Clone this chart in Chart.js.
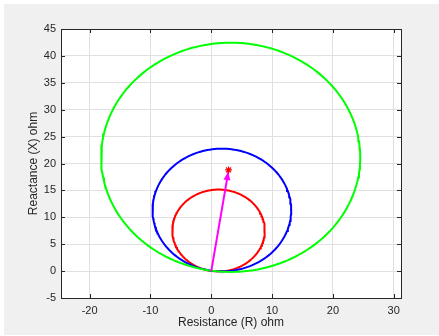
<!DOCTYPE html>
<html>
<head>
<meta charset="utf-8">
<script src="https://cdn.jsdelivr.net/npm/chart.js@4.4.1/dist/chart.umd.min.js"></script>
<style>
body { margin: 0; background: #fff; }
#wrap { width: 439px; height: 336px; }
</style>
</head>
<body>
<div id="wrap"><canvas id="mycanvas" width="439" height="336"></canvas></div>
<script>
var xTicks = [-20, -10, 0, 10, 20, 30];
var yTicks = [-5, 0, 5, 10, 15, 20, 25, 30, 35, 40, 45];
var xLimits = [-24.7, 31.2];
var yLimits = [-5, 45];

// relay circles: centre (R, X) and radius, ohm
var circleNames = ['zone1', 'zone2', 'zone3'];
var centerR = [1.2, 1.75, 3.2];
var centerX = [7.55, 11.35, 21.15];
var radius = [7.6, 11.4, 21.3];

// impedance arrow and marker
var arrowR = [0, 2.8];
var arrowX = [0, 18.4];
var markR = [2.85];
var markX = [18.8];

var txt = '#262626';
var font = "'Liberation Sans', Arial, sans-serif";

function circlePoints(i) {
    var pts = [];
    for (var k = 0; k <= 180; k++) {
        var a = k * 2 * Math.PI / 180;
        pts.push({x: centerR[i] + radius[i] * Math.cos(a), y: centerX[i] + radius[i] * Math.sin(a)});
    }
    return pts;
}

function pairs(xs, ys) {
    var pts = [];
    for (var i = 0; i < xs.length; i++) pts.push({x: xs[i], y: ys[i]});
    return pts;
}

var framePlugin = {
    id: 'frame',
    beforeDraw: function (chart) {
        var c = chart.ctx, a = chart.chartArea;
        c.save();
        c.fillStyle = '#f0f0f0';
        c.fillRect(4, 4, 435, 331);
        c.fillStyle = '#ffffff';
        c.fillRect(a.left, a.top, a.right - a.left, a.bottom - a.top);
        c.restore();
    },
    afterDatasetsDraw: function (chart) {
        var c = chart.ctx, sx = chart.scales.x, sy = chart.scales.y;
        var x0 = sx.getPixelForValue(arrowR[0]), y0 = sy.getPixelForValue(arrowX[0]);
        var x1 = sx.getPixelForValue(arrowR[1]), y1 = sy.getPixelForValue(arrowX[1]);
        var ang = Math.atan2(y1 - y0, x1 - x0);
        var len = 8, hw = 3.5;
        c.save();
        c.fillStyle = '#ff00ff';
        c.beginPath();
        c.moveTo(x1, y1);
        c.lineTo(x1 - len * Math.cos(ang) + hw * Math.sin(ang), y1 - len * Math.sin(ang) - hw * Math.cos(ang));
        c.lineTo(x1 - len * Math.cos(ang) - hw * Math.sin(ang), y1 - len * Math.sin(ang) + hw * Math.cos(ang));
        c.closePath();
        c.fill();
        c.restore();
    },
    afterDraw: function (chart) {
        var c = chart.ctx, a = chart.chartArea, sx = chart.scales.x, sy = chart.scales.y;
        var tl = 4;
        c.save();
        c.strokeStyle = txt;
        c.lineWidth = 1;
        c.beginPath();
        xTicks.forEach(function (v) {
            var p = Math.round(sx.getPixelForValue(v)) + 0.5;
            c.moveTo(p, a.bottom); c.lineTo(p, a.bottom - tl);
            c.moveTo(p, a.top); c.lineTo(p, a.top + tl);
        });
        yTicks.forEach(function (v) {
            var p = Math.round(sy.getPixelForValue(v)) + 0.5;
            c.moveTo(a.left, p); c.lineTo(a.left + tl, p);
            c.moveTo(a.right, p); c.lineTo(a.right - tl, p);
        });
        c.stroke();
        c.strokeRect(a.left + 0.5, a.top + 0.5, a.right - a.left, a.bottom - a.top);
        c.restore();
    }
};

var lineColors = ['#ff0000', '#0000ff', '#00ff00'];
var datasets = [];
for (var i = 0; i < circleNames.length; i++) {
    datasets.push({
        label: circleNames[i],
        data: circlePoints(i),
        showLine: true,
        borderColor: lineColors[i],
        borderWidth: 2,
        pointRadius: 0,
        fill: false,
        order: 5 - i
    });
}
datasets.push({
    label: 'Z',
    data: pairs(arrowR, arrowX),
    showLine: true,
    borderColor: '#ff00ff',
    borderWidth: 2,
    pointRadius: 0,
    order: 1
});
datasets.push({
    label: 'fault',
    data: pairs(markR, markX),
    pointStyle: 'star',
    pointRadius: 3.5,
    borderColor: '#ff0000',
    backgroundColor: '#ff0000',
    borderWidth: 1.2,
    order: 0
});

var ctx = document.getElementById('mycanvas');
var chart = new Chart(ctx, {
    type: 'scatter',
    data: {datasets: datasets},
    plugins: [framePlugin],
    options: {
        responsive: false,
        animation: false,
        events: [],
        layout: {padding: {left: 0, top: 29, right: 38, bottom: 0}},
        plugins: {legend: {display: false}, tooltip: {enabled: false}},
        scales: {
            x: {
                type: 'linear',
                min: xLimits[0],
                max: xLimits[1],
                afterBuildTicks: function (s) { s.ticks = xTicks.map(function (v) { return {value: v}; }); },
                afterFit: function (s) { s.height = 38; },
                grid: {color: '#e0e0e0', drawTicks: false},
                border: {display: false},
                ticks: {color: txt, font: {family: font, size: 11}, padding: 6, maxRotation: 0},
                title: {display: true, text: 'Resistance (R) ohm', color: txt, font: {family: font, size: 12}, padding: {bottom: 6}}
            },
            y: {
                type: 'linear',
                min: yLimits[0],
                max: yLimits[1],
                afterBuildTicks: function (s) { s.ticks = yTicks.map(function (v) { return {value: v}; }); },
                afterFit: function (s) { s.width = 61; },
                grid: {color: '#e0e0e0', drawTicks: false},
                border: {display: false},
                ticks: {color: txt, font: {family: font, size: 11}, padding: 5},
                title: {display: true, text: 'Reactance (X) ohm', color: txt, font: {family: font, size: 12}, padding: {top: 26}}
            }
        }
    }
});
</script>
</body>
</html>
